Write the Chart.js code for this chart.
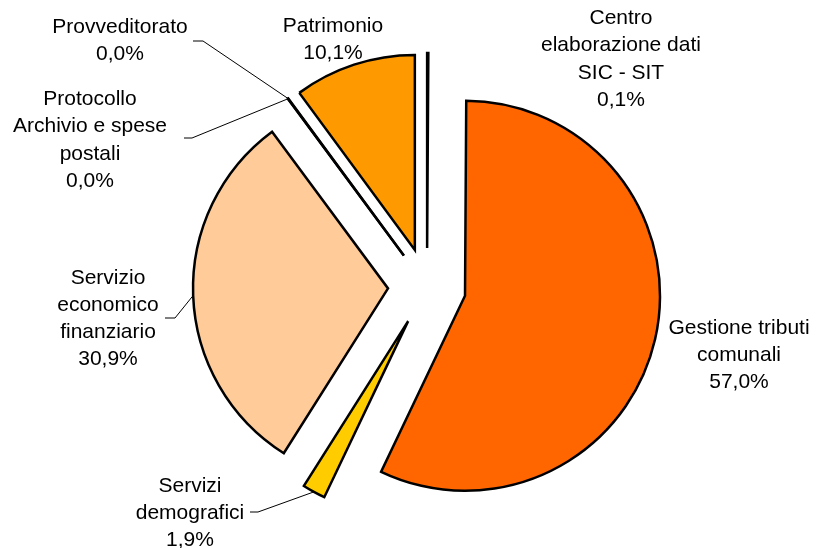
<!DOCTYPE html>
<html>
<head>
<meta charset="utf-8">
<title>Ripartizione spese</title>
<script src="https://cdn.jsdelivr.net/npm/chart.js@4.4.1/dist/chart.umd.min.js"></script>
<style>
  html, body { margin: 0; padding: 0; background: #ffffff; }
  #wrap { width: 816px; height: 548px; }
</style>
</head>
<body>
<div id="wrap"><canvas id="pieChart" width="816" height="548"></canvas></div>
<script>
// ===================================
// DATA
// ===================================
const categories = [
    ['Centro', 'elaborazione dati', 'SIC - SIT'],
    ['Gestione tributi', 'comunali'],
    ['Servizi', 'demografici'],
    ['Servizio', 'economico', 'finanziario'],
    ['Protocollo', 'Archivio e spese', 'postali'],
    ['Provveditorato'],
    ['Patrimonio']
];
// shares in %, the two "0,0%" items are tiny but not empty
const values = [0.1, 57.0, 1.9, 30.9, 0.02, 0.02, 10.1];

const sliceColors = ['#FFFF99', '#FF6600', '#FFCC00', '#FFCC99', '#CC9900', '#993300', '#FF9900'];

// where each label block sits (centre of first line) and its leader line start
const labelLayout = [
    { x: 621, y: 18.5, lead: null },
    { x: 739, y: 328, lead: null },
    { x: 190, y: 486, lead: [[250, 512], [258, 512]] },
    { x: 108, y: 278, lead: [[165, 318], [175, 318]] },
    { x: 90,  y: 99.5, lead: [[184, 138], [192, 138]] },
    { x: 120, y: 27,  lead: [[193, 41], [203, 41]] },
    { x: 333, y: 26,  lead: null }
];

const EXPLODE = 39;
const LINE_H = 27.2;

const total = values.reduce((a, b) => a + b, 0);
const pctText = v => (v / total * 100).toFixed(1).replace('.', ',') + '%';

// ===================================
// PLUGINS
// ===================================
// pull every slice out along its middle angle
const explodePlugin = {
    id: 'explode',
    beforeDatasetsDraw(chart) {
        const area = chart.chartArea;
        const cx = (area.left + area.right) / 2;
        const cy = (area.top + area.bottom) / 2;
        chart.getDatasetMeta(0).data.forEach(arc => {
            const mid = (arc.startAngle + arc.endAngle) / 2;
            arc.x = cx + Math.cos(mid) * EXPLODE;
            arc.y = cy + Math.sin(mid) * EXPLODE;
        });
    }
};

const labelPlugin = {
    id: 'sliceLabels',
    afterDatasetsDraw(chart) {
        const ctx = chart.ctx;
        const arcs = chart.getDatasetMeta(0).data;
        ctx.save();
        arcs.forEach((arc, i) => {
            const lay = labelLayout[i];
            if (lay.lead) {
                const mid = (arc.startAngle + arc.endAngle) / 2;
                const ex = arc.x + Math.cos(mid) * arc.outerRadius;
                const ey = arc.y + Math.sin(mid) * arc.outerRadius;
                ctx.beginPath();
                ctx.strokeStyle = '#000';
                ctx.lineWidth = 1;
                ctx.moveTo(lay.lead[0][0], lay.lead[0][1]);
                ctx.lineTo(lay.lead[1][0], lay.lead[1][1]);
                ctx.lineTo(ex, ey);
                ctx.stroke();
            }
            const lines = categories[i].concat([pctText(values[i])]);
            ctx.fillStyle = '#000';
            ctx.font = '21px "Liberation Sans", Arial, sans-serif';
            ctx.textAlign = 'center';
            ctx.textBaseline = 'middle';
            lines.forEach((t, k) => ctx.fillText(t, lay.x, lay.y + k * LINE_H));
        });
        ctx.restore();
    }
};

// ===================================
// CHART
// ===================================
const chart = new Chart(document.getElementById('pieChart'), {
    type: 'pie',
    data: {
        labels: categories.map(c => c.join(' ')),
        datasets: [{
            data: values,
            backgroundColor: sliceColors,
            borderColor: '#000000',
            borderWidth: 2.5,
            borderJoinStyle: 'miter',
            radius: 195
        }]
    },
    options: {
        responsive: false,
        animation: false,
        layout: { padding: { left: 38, top: 26, right: 0, bottom: 0 } },
        plugins: {
            legend: { display: false },
            tooltip: { enabled: false }
        }
    },
    plugins: [explodePlugin, labelPlugin]
});
</script>
</body>
</html>
